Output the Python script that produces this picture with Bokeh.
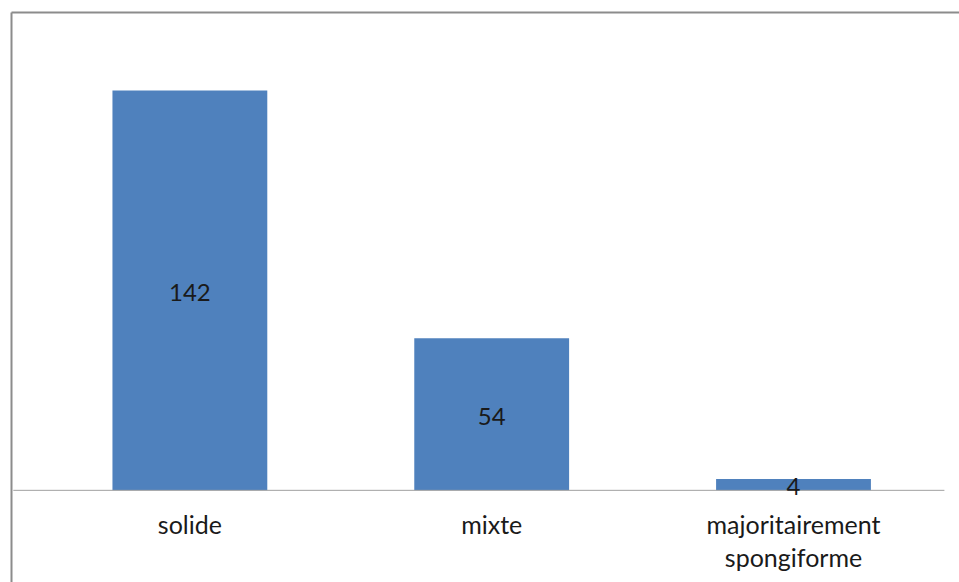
from bokeh.plotting import figure
from bokeh.models import LinearAxis, Range1d, ColumnDataSource, FixedTicker
from bokeh.core.properties import value
from bokeh.embed import file_html
from bokeh.resources import INLINE

categories = ["solide", "mixte", "majoritairement\nspongiforme"]
counts = [142, 54, 4]

idx = list(range(len(categories)))
src = ColumnDataSource(dict(
    x=idx,
    top=counts,
    mid=[c / 2 for c in counts],
    lab=[str(c) for c in counts],
    cat=categories,
    zero=[0] * len(counts),
))

FONT = value("Lato")

p = figure(width=959, height=582, output_backend="svg", toolbar_location=None,
           x_range=Range1d(-0.591, 2.55), y_range=Range1d(-32.74, 169.75),
           min_border_left=11, min_border_top=12, min_border_right=0, min_border_bottom=0,
           x_axis_location=None, y_axis_location=None)
p.outline_line_color = None
p.grid.visible = False
p.background_fill_color = "white"
p.border_fill_color = "white"

# frame border drawn as axis lines (left & top)
for side in ("left", "above"):
    ax = LinearAxis(ticker=FixedTicker(ticks=[]),
                    major_tick_line_color=None, minor_tick_line_color=None,
                    major_label_text_color=None, axis_line_color="#8c8c8c",
                    axis_line_width=2)
    p.add_layout(ax, side)

p.vbar(x="x", top="top", bottom=0, width=0.513, source=src,
       fill_color="#4F81BD", line_color=None)

# baseline
p.segment(x0=-0.585, x1=2.50, y0=0, y1=0, line_color="#a0a0a0", line_width=1)

p.text(x="x", y="mid", text="lab", source=src, text_font=FONT,
       text_font_size="24px", text_align="center", text_baseline="middle",
       y_offset=2, text_color="#1a1a1a")

p.text(x="x", y="zero", text="cat", source=src, text_font=FONT,
       text_font_size="25px", text_align="center", text_baseline="top",
       y_offset=19, text_line_height=1.1, text_color="#1a1a1a")

open("out.html", "w").write(file_html(p, INLINE))
